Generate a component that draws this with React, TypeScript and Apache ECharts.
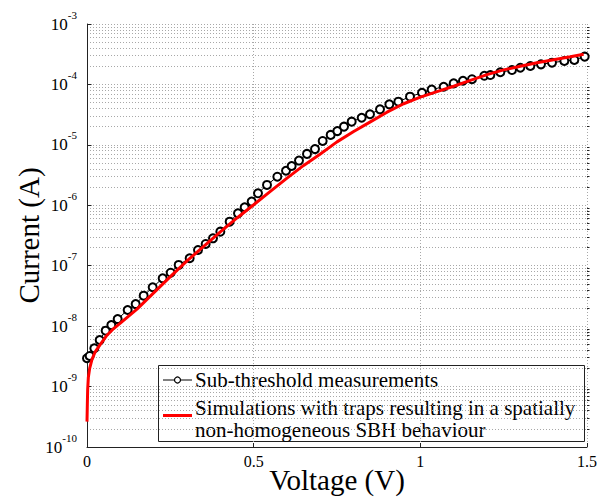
import React, { useEffect, useRef } from 'react';
import * as echarts from 'echarts';

const measVoltage = [
  0.0, 0.008, 0.022, 0.038, 0.056, 0.073, 0.092, 0.122, 0.146, 0.17, 0.197, 0.227, 0.251, 0.275,
  0.308, 0.333, 0.356, 0.378, 0.4, 0.428, 0.453, 0.473, 0.494, 0.513, 0.54, 0.571, 0.597, 0.614,
  0.636, 0.66, 0.684, 0.707, 0.731, 0.751, 0.771, 0.794, 0.824, 0.849, 0.879, 0.907, 0.934, 0.969,
  1.005, 1.034, 1.07, 1.1, 1.128, 1.155, 1.192, 1.21, 1.24, 1.275, 1.3, 1.33, 1.362, 1.395, 1.432,
  1.462, 1.493,
];
const measCurrent = [
  2.94e-9, 3.21e-9, 4.3e-9, 5.9e-9, 8.41e-9, 1.04e-8, 1.31e-8, 1.85e-8, 2.32e-8, 3.19e-8, 4.4e-8,
  6.19e-8, 7.66e-8, 1.03e-7, 1.33e-7, 1.82e-7, 2.29e-7, 2.84e-7, 3.66e-7, 5.35e-7, 7.36e-7, 9.27e-7,
  1.15e-6, 1.58e-6, 2.17e-6, 2.97e-6, 3.73e-6, 4.47e-6, 5.5e-6, 7.08e-6, 8.51e-6, 1.16e-5, 1.46e-5,
  1.69e-5, 2.0e-5, 2.42e-5, 2.81e-5, 3.21e-5, 3.87e-5, 4.69e-5, 5.18e-5, 6.27e-5, 7.29e-5, 8.2e-5,
  9.16e-5, 1.04e-4, 1.15e-4, 1.22e-4, 1.39e-4, 1.43e-4, 1.59e-4, 1.73e-4, 1.89e-4, 2.02e-4,
  2.15e-4, 2.29e-4, 2.44e-4, 2.54e-4, 2.88e-4,
];

const simVoltage = [
  0.0, 0.001, 0.002, 0.004, 0.008, 0.015, 0.025, 0.04, 0.06, 0.08, 0.1, 0.15, 0.2, 0.25, 0.3, 0.35,
  0.4, 0.45, 0.5, 0.55, 0.6, 0.65, 0.7, 0.75, 0.8, 0.85, 0.9, 0.95, 1.0, 1.05, 1.1, 1.15, 1.2, 1.25,
  1.3, 1.35, 1.4, 1.45, 1.49,
];
const simCurrent = [
  2.63e-10, 5.01e-10, 8.91e-10, 1.41e-9, 2.0e-9, 2.82e-9, 3.8e-9, 5.01e-9, 7.08e-9, 9.12e-9,
  1.12e-8, 1.91e-8, 3.55e-8, 6.61e-8, 1.2e-7, 2.09e-7, 3.63e-7, 6.17e-7, 1.02e-6, 1.7e-6, 2.82e-6,
  4.57e-6, 7.08e-6, 1.12e-5, 1.66e-5, 2.4e-5, 3.47e-5, 4.79e-5, 6.17e-5, 7.59e-5, 9.33e-5, 1.17e-4,
  1.45e-4, 1.74e-4, 2.0e-4, 2.29e-4, 2.57e-4, 2.88e-4, 3.16e-4,
];

const xTickValues = [0, 0.5, 1, 1.5];
const yDecadeExponents = [-10, -9, -8, -7, -6, -5, -4, -3];
const yMinorMultipliers = [2, 3, 4, 5, 6, 7, 8, 9];

const seriesNames = ['Sub-threshold measurements', 'Simulations with traps resulting in a spatially'];
const seriesName2b = 'non-homogeneous SBH behaviour';
const xName = 'Voltage (V)';
const yName = 'Current (A)';

const FONT = '"Liberation Serif", "Times New Roman", serif';

export default function App() {
  const ref = useRef<HTMLDivElement>(null);
  useEffect(() => {
    const chart = echarts.init(ref.current!, null, { renderer: 'svg' });
    const majorValues = yDecadeExponents.map((e) => Math.pow(10, e));
    const minorValues: number[] = [];
    yDecadeExponents.slice(0, -1).forEach((e) => {
      yMinorMultipliers.forEach((m) => minorValues.push(m * Math.pow(10, e)));
    });
    const gridLine = { color: '#a8a8a8', width: 1, type: [1, 2] as any };
    const axisColor = '#222';

    chart.setOption({
      animation: false,
      backgroundColor: '#fff',
      grid: { left: 87, right: 15, top: 24, height: 423, containLabel: false, outerBoundsMode: 'none' },
      xAxis: {
        type: 'value',
        min: 0,
        max: 1.5,
        interval: 0.5,
        name: xName,
        nameLocation: 'middle',
        nameGap: 33,
        nameMoveOverlap: false,
        nameTextStyle: { fontFamily: FONT, fontSize: 29, color: '#000', verticalAlign: 'middle' },
        axisLine: { show: true, onZero: false, lineStyle: { color: axisColor, width: 1 } },
        axisTick: { show: true, inside: true, length: 4, lineStyle: { color: axisColor } },
        axisLabel: {
          fontFamily: FONT,
          fontSize: 16,
          color: '#000',
          margin: 6,
          formatter: (v: number) => (xTickValues.includes(v) ? String(v) : ''),
        },
        splitLine: { show: true, lineStyle: gridLine },
      },
      yAxis: [
        {
          type: 'log',
          logBase: 10,
          min: 1e-10,
          max: 1e-3,
          name: yName,
          nameLocation: 'middle',
          nameGap: 58,
          nameMoveOverlap: false,
          nameTextStyle: { fontFamily: FONT, fontSize: 29, color: '#000', verticalAlign: 'middle' },
          axisLine: { show: true, onZero: false, lineStyle: { color: axisColor, width: 1 } },
          axisTick: { show: true, inside: true, length: 4.5, lineStyle: { color: axisColor }, customValues: majorValues },
          axisLabel: {
            margin: 10,
            customValues: majorValues,
            formatter: (v: number) => {
              const e = Math.round(Math.log10(v));
              return `{b|10}{s|${e}}`;
            },
            rich: {
              b: { fontFamily: FONT, fontSize: 17, color: '#000', lineHeight: 30, verticalAlign: 'middle' },
              s: { fontFamily: FONT, fontSize: 11, color: '#000', lineHeight: 12, verticalAlign: 'top' },
            },
          },
          splitLine: { show: true, lineStyle: gridLine },
        },
        {
          type: 'log',
          logBase: 10,
          min: 1e-10,
          max: 1e-3,
          position: 'right',
          offset: -500,
          axisLine: { show: false },
          axisLabel: { show: false },
          axisTick: { show: true, inside: false, length: 2.5, lineStyle: { color: axisColor }, customValues: minorValues },
          splitLine: { show: true, lineStyle: gridLine },
        },
      ],
      series: [
        {
          type: 'line',
          name: seriesNames[0],
          data: measVoltage.map((v, i) => [v, measCurrent[i]]),
          symbol: 'emptyCircle',
          symbolSize: 8,
          showSymbol: true,
          lineStyle: { color: '#000', width: 1 },
          itemStyle: { color: '#000', borderWidth: 1.3, borderColor: '#000' },
          z: 3,
        },
        {
          type: 'line',
          name: seriesNames[1],
          data: simVoltage.map((v, i) => [v, simCurrent[i]]),
          showSymbol: false,
          symbol: 'none',
          lineStyle: { color: '#ff0000', width: 3 },
          z: 4,
        },
      ],
      graphic: [
        {
          type: 'group',
          z: 100,
          children: [
            {
              type: 'rect',
              shape: { x: 158.5, y: 365.5, width: 426, height: 76 },
              style: { fill: '#fff', stroke: '#222', lineWidth: 1 },
            },
            {
              type: 'line',
              shape: { x1: 163, y1: 380, x2: 192, y2: 380 },
              style: { stroke: '#000', lineWidth: 1 },
            },
            {
              type: 'circle',
              shape: { cx: 177.5, cy: 380, r: 3 },
              style: { fill: '#fff', stroke: '#000', lineWidth: 1.2 },
            },
            {
              type: 'text',
              x: 195,
              y: 380,
              style: { text: seriesNames[0], fontFamily: FONT, fontSize: 21, fill: '#000', verticalAlign: 'middle' },
            },
            {
              type: 'line',
              shape: { x1: 163, y1: 415.5, x2: 192, y2: 415.5 },
              style: { stroke: '#ff0000', lineWidth: 3 },
            },
            {
              type: 'text',
              x: 195,
              y: 408,
              style: { text: seriesNames[1], fontFamily: FONT, fontSize: 21, fill: '#000', verticalAlign: 'middle' },
            },
            {
              type: 'text',
              x: 195,
              y: 430,
              style: { text: seriesName2b, fontFamily: FONT, fontSize: 21, fill: '#000', verticalAlign: 'middle' },
            },
          ],
        },
      ],
    });
    return () => chart.dispose();
  }, []);
  return <div ref={ref} style={{ position: 'fixed', left: 0, top: 0, width: 602, height: 497 }} />;
}
